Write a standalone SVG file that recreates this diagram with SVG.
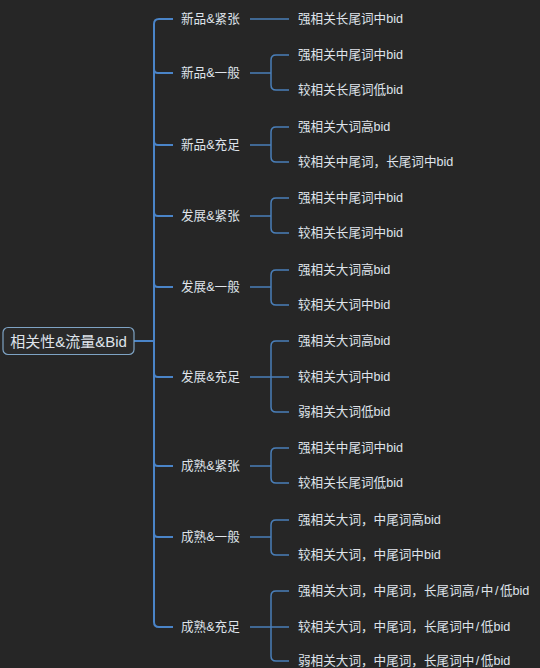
<svg xmlns="http://www.w3.org/2000/svg" width="540" height="668" viewBox="0 0 540 668">
<style>
text{font-family:"Liberation Sans","Noto Sans CJK SC",sans-serif;fill:#dfe3ea;dominant-baseline:central}
.l1{font-size:12.6px}
.l2{font-size:12.6px}
.root{font-size:15px}
.c1{fill:none;stroke:#4a84c8;stroke-width:2}
.c2{fill:none;stroke:#4a7fb9;stroke-width:1.5}
</style>
<rect width="540" height="668" fill="#262626"/>
<g id="connectors">
<path class="c1" d="M134,341 H154"/>
<path class="c1" d="M154,24 V622"/>
<path class="c1" d="M154,24 Q154,19 159,19 H173"/>
<path class="c1" d="M154,69 Q154,73 158,73 H173"/>
<path class="c1" d="M154,141 Q154,145 158,145 H173"/>
<path class="c1" d="M154,212 Q154,216 158,216 H173"/>
<path class="c1" d="M154,283 Q154,287 158,287 H173"/>
<path class="c1" d="M154,373 Q154,377 158,377 H173"/>
<path class="c1" d="M154,462 Q154,466 158,466 H173"/>
<path class="c1" d="M154,533 Q154,537 158,537 H173"/>
<path class="c1" d="M154,622 Q154,627 159,627 H173"/>
<path class="c2" d="M250,19 H289"/>
<path class="c2" d="M250,73 H271 M289,55 H276 Q271,55 271,60 V85 Q271,90 276,90 H289"/>
<path class="c2" d="M250,145 H271 M289,127 H276 Q271,127 271,132 V157 Q271,162 276,162 H289"/>
<path class="c2" d="M250,216 H271 M289,198 H276 Q271,198 271,203 V228 Q271,233 276,233 H289"/>
<path class="c2" d="M250,287 H271 M289,270 H276 Q271,270 271,275 V300 Q271,305 276,305 H289"/>
<path class="c2" d="M250,377 H289 M289,341 H276 Q271,341 271,346 V407 Q271,412 276,412 H289"/>
<path class="c2" d="M250,466 H271 M289,448 H276 Q271,448 271,453 V478 Q271,483 276,483 H289"/>
<path class="c2" d="M250,537 H271 M289,520 H276 Q271,520 271,525 V550 Q271,555 276,555 H289"/>
<path class="c2" d="M250,627 H289 M289,591 H276 Q271,591 271,596 V656 Q271,661 276,661 H289"/>
</g>
<g id="root">
<rect x="3" y="327.5" width="131" height="27" rx="5" fill="#2a2a2a" stroke="#7ea3c4" stroke-width="1.2"/>
<text class="root" x="68.5" y="341" text-anchor="middle">相关性&amp;流量&amp;Bid</text>
</g>
<g id="n1"><text class="l1" x="181" y="19">新品&amp;紧张</text></g>
<g id="n1a"><text class="l2" x="298" y="19">强相关长尾词中bid</text></g>
<g id="n2"><text class="l1" x="181" y="73">新品&amp;一般</text></g>
<g id="n2a"><text class="l2" x="298" y="55">强相关中尾词中bid</text></g>
<g id="n2b"><text class="l2" x="298" y="90">较相关长尾词低bid</text></g>
<g id="n3"><text class="l1" x="181" y="145">新品&amp;充足</text></g>
<g id="n3a"><text class="l2" x="298" y="127">强相关大词高bid</text></g>
<g id="n3b"><text class="l2" x="298" y="162">较相关中尾词，长尾词中bid</text></g>
<g id="n4"><text class="l1" x="181" y="216">发展&amp;紧张</text></g>
<g id="n4a"><text class="l2" x="298" y="198">强相关中尾词中bid</text></g>
<g id="n4b"><text class="l2" x="298" y="233">较相关长尾词中bid</text></g>
<g id="n5"><text class="l1" x="181" y="287">发展&amp;一般</text></g>
<g id="n5a"><text class="l2" x="298" y="270">强相关大词高bid</text></g>
<g id="n5b"><text class="l2" x="298" y="305">较相关大词中bid</text></g>
<g id="n6"><text class="l1" x="181" y="377">发展&amp;充足</text></g>
<g id="n6a"><text class="l2" x="298" y="341">强相关大词高bid</text></g>
<g id="n6b"><text class="l2" x="298" y="377">较相关大词中bid</text></g>
<g id="n6c"><text class="l2" x="298" y="412">弱相关大词低bid</text></g>
<g id="n7"><text class="l1" x="181" y="466">成熟&amp;紧张</text></g>
<g id="n7a"><text class="l2" x="298" y="448">强相关中尾词中bid</text></g>
<g id="n7b"><text class="l2" x="298" y="483">较相关长尾词低bid</text></g>
<g id="n8"><text class="l1" x="181" y="537">成熟&amp;一般</text></g>
<g id="n8a"><text class="l2" x="298" y="520">强相关大词，中尾词高bid</text></g>
<g id="n8b"><text class="l2" x="298" y="555">较相关大词，中尾词中bid</text></g>
<g id="n9"><text class="l1" x="181" y="627">成熟&amp;充足</text></g>
<g id="n9a"><text class="l2" x="298" y="591">强相关大词，中尾词，长尾词高<tspan dx="1.5">/</tspan><tspan dx="1.5">中</tspan><tspan dx="1.5">/</tspan><tspan dx="1.5">低bid</tspan></text></g>
<g id="n9b"><text class="l2" x="298" y="627">较相关大词，中尾词，长尾词中<tspan dx="1.5">/</tspan><tspan dx="1.5">低bid</tspan></text></g>
<g id="n9c"><text class="l2" x="298" y="661">弱相关大词，中尾词，长尾词中<tspan dx="1.5">/</tspan><tspan dx="1.5">低bid</tspan></text></g>
</svg>
